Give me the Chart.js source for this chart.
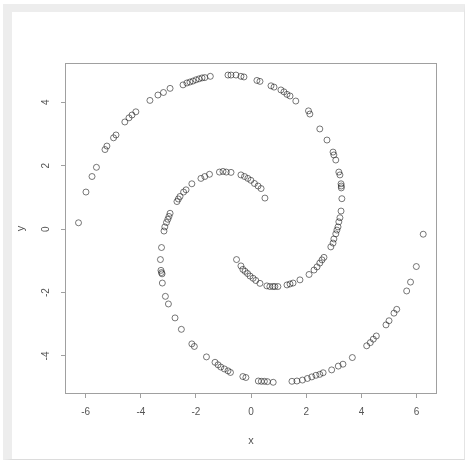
<!DOCTYPE html>
<html>
<head>
<meta charset="utf-8">
<script src="https://cdn.jsdelivr.net/npm/chart.js@4.4.1/dist/chart.umd.min.js"></script>
<style>
  html, body { margin: 0; padding: 0; background: #fff; }
  #wrap { position: relative; width: 465px; height: 462px; overflow: hidden; }
  #frame {
    position: absolute; left: 3px; top: 4px; width: 452px; height: 447px;
    border-left: 9px solid #ededed; border-top: 8px solid #ededed;
    border-right: 1px solid #e4e4e4; border-bottom: 1px solid #dcdcdc;
  }
  canvas { position: absolute; left: 0; top: 0; }
</style>
</head>
<body>
<div id="wrap">
  <div id="frame"></div>
  <canvas id="myChart" width="465" height="462"></canvas>
</div>
<script>
// spiral arm starting near (0.5, 1) and ending at the right
const armAx = [0.50, 0.36, 0.25, 0.12, -0.01, -0.12, -0.24, -0.37, -0.73, -0.90, -1.02, -1.15, -1.51, -1.68, -1.82, -2.15, -2.36, -2.45, -2.58, -2.64, -2.69, -2.94, -2.98, -3.02, -3.07, -3.13, -3.16, -3.25, -3.29, -3.27, -3.25, -3.23, -3.22, -3.11, -3.00, -2.76, -2.53, -2.15, -2.06, -1.62, -1.31, -1.20, -1.10, -0.97, -0.84, -0.75, -0.30, -0.19, 0.26, 0.37, 0.48, 0.59, 0.80, 1.48, 1.66, 1.86, 2.04, 2.20, 2.35, 2.49, 2.61, 2.92, 3.16, 3.33, 3.67, 4.19, 4.32, 4.43, 4.54, 4.89, 5.00, 5.18, 5.28, 5.64, 5.78, 5.99, 6.24];
const armAy = [0.98, 1.28, 1.36, 1.44, 1.54, 1.60, 1.66, 1.71, 1.79, 1.80, 1.82, 1.80, 1.73, 1.66, 1.60, 1.43, 1.24, 1.17, 1.03, 0.95, 0.87, 0.50, 0.40, 0.31, 0.21, 0.07, -0.06, -0.58, -0.96, -1.30, -1.37, -1.41, -1.70, -2.12, -2.36, -2.80, -3.16, -3.62, -3.70, -4.03, -4.20, -4.28, -4.35, -4.41, -4.47, -4.52, -4.65, -4.68, -4.79, -4.80, -4.80, -4.81, -4.83, -4.80, -4.79, -4.76, -4.71, -4.66, -4.61, -4.58, -4.53, -4.44, -4.32, -4.26, -4.05, -3.68, -3.58, -3.47, -3.37, -3.02, -2.89, -2.65, -2.53, -1.95, -1.67, -1.18, -0.16];

// spiral arm starting near (-0.5, -1) and ending at the left
const armBx = [-0.53, -0.37, -0.30, -0.22, -0.13, -0.04, 0.07, 0.17, 0.32, 0.57, 0.68, 0.79, 0.86, 0.97, 1.30, 1.41, 1.52, 1.77, 2.10, 2.28, 2.39, 2.49, 2.57, 2.64, 2.89, 2.97, 3.00, 3.07, 3.11, 3.15, 3.18, 3.22, 3.26, 3.29, 3.27, 3.27, 3.26, 3.22, 3.18, 3.07, 3.00, 2.97, 2.75, 2.49, 2.13, 2.08, 1.62, 1.41, 1.30, 1.19, 1.08, 0.83, 0.72, 0.32, 0.21, -0.26, -0.37, -0.55, -0.73, -0.84, -1.48, -1.68, -1.78, -1.89, -2.00, -2.11, -2.22, -2.33, -2.47, -2.94, -3.18, -3.38, -3.67, -4.18, -4.32, -4.43, -4.58, -4.90, -4.99, -5.23, -5.30, -5.61, -5.77, -5.99, -6.26];
const armBy = [-0.96, -1.16, -1.27, -1.33, -1.40, -1.48, -1.55, -1.62, -1.71, -1.79, -1.81, -1.81, -1.81, -1.81, -1.76, -1.73, -1.70, -1.60, -1.43, -1.29, -1.19, -1.07, -0.97, -0.89, -0.56, -0.44, -0.31, -0.15, -0.03, 0.07, 0.23, 0.36, 0.57, 0.96, 1.30, 1.36, 1.43, 1.71, 1.80, 2.18, 2.34, 2.43, 2.81, 3.16, 3.63, 3.73, 4.04, 4.20, 4.25, 4.33, 4.39, 4.48, 4.52, 4.66, 4.69, 4.80, 4.82, 4.86, 4.86, 4.86, 4.82, 4.78, 4.77, 4.74, 4.71, 4.67, 4.64, 4.61, 4.55, 4.44, 4.31, 4.23, 4.06, 3.70, 3.60, 3.51, 3.38, 2.97, 2.88, 2.62, 2.51, 1.95, 1.66, 1.17, 0.20];

const xTicks = [-6, -4, -2, 0, 2, 4, 6];
const yTicks = [-4, -2, 0, 2, 4];

const toPoints = (xs, ys) => xs.map((x, i) => ({ x: x, y: ys[i] }));

const pointStyle = {
  showLine: false,
  pointStyle: 'circle',
  pointRadius: 3,
  pointBorderWidth: 0.8,
  pointBorderColor: 'rgba(30,30,30,0.75)',
  pointBackgroundColor: 'rgba(0,0,0,0)'
};

// R style box round the plotting region
const boxPlugin = {
  id: 'box',
  afterDraw(chart) {
    const { ctx, chartArea: a } = chart;
    ctx.save();
    ctx.strokeStyle = '#a0a0a0';
    ctx.lineWidth = 1;
    ctx.strokeRect(a.left + 0.5, a.top + 0.5, a.right - a.left - 1, a.bottom - a.top - 1);
    ctx.restore();
  }
};

// y tick labels drawn rotated, placed by the y scale
const yLabelPlugin = {
  id: 'ylabels',
  afterDraw(chart) {
    const { ctx } = chart;
    const ys = chart.scales.y;
    ctx.save();
    ctx.fillStyle = '#555';
    ctx.font = '10px "Liberation Sans", Arial, sans-serif';
    ctx.textAlign = 'center';
    ctx.textBaseline = 'middle';
    ys.ticks.forEach(t => {
      const py = ys.getPixelForValue(t.value);
      ctx.save();
      ctx.translate(46, py);
      ctx.rotate(-Math.PI / 2);
      ctx.fillText(String(t.value), 0, 0);
      ctx.restore();
    });
    ctx.restore();
  }
};

const ctx1 = document.getElementById('myChart').getContext('2d');

const myChart = new Chart(ctx1, {
  type: 'scatter',
  data: {
    datasets: [
      Object.assign({ label: 'A', data: toPoints(armAx, armAy) }, pointStyle),
      Object.assign({ label: 'B', data: toPoints(armBx, armBy) }, pointStyle)
    ]
  },
  options: {
    responsive: false,
    animation: false,
    devicePixelRatio: 1,
    layout: { padding: { left: 12, top: 63, right: 28, bottom: 12 } },
    plugins: {
      legend: { display: false },
      tooltip: { enabled: false }
    },
    scales: {
      x: {
        type: 'linear',
        min: -6.75,
        max: 6.74,
        afterBuildTicks: s => { s.ticks = xTicks.map(v => ({ value: v })); },
        afterFit: s => { s.height = 56; },
        border: { display: false },
        grid: { drawOnChartArea: false, drawTicks: true, tickLength: 4, color: '#a0a0a0' },
        ticks: {
          color: '#555',
          padding: 8,
          maxRotation: 0,
          font: { family: '"Liberation Sans", Arial, sans-serif', size: 10 }
        },
        title: {
          display: true,
          text: 'x',
          color: '#555',
          padding: { top: 0, bottom: 2 },
          font: { family: '"Liberation Sans", Arial, sans-serif', size: 11 }
        }
      },
      y: {
        type: 'linear',
        min: -5.2,
        max: 5.24,
        afterBuildTicks: s => { s.ticks = yTicks.map(v => ({ value: v })); },
        afterFit: s => { s.width = 53; },
        border: { display: false },
        grid: { drawOnChartArea: false, drawTicks: true, tickLength: 4, color: '#a0a0a0' },
        ticks: { display: false },
        title: {
          display: true,
          text: 'y',
          color: '#555',
          padding: { top: 2, bottom: 0 },
          font: { family: '"Liberation Sans", Arial, sans-serif', size: 11 }
        }
      }
    }
  },
  plugins: [boxPlugin, yLabelPlugin]
});
</script>
</body>
</html>
